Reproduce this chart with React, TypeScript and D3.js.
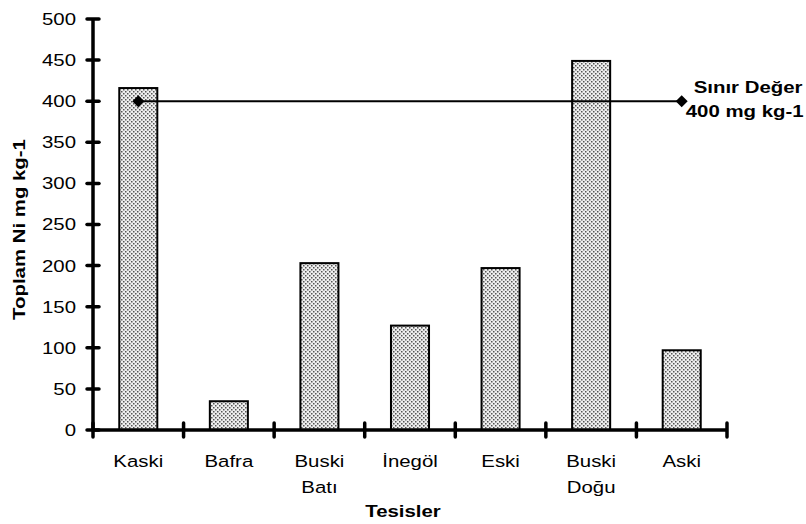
import * as d3 from "d3"
import { useEffect, useRef } from "react"

const categories = ["Kaski", "Bafra", "Buski Batı", "İnegöl", "Eski", "Buski Doğu", "Aski"]
const values = [416, 35, 203, 127, 197, 449, 97]
const limitValue = 400
const limitLabel = ["Sınır Değer", "400 mg kg-1"]
const yTicks = [0, 50, 100, 150, 200, 250, 300, 350, 400, 450, 500]

export default function App() {
  const svgRef = useRef<SVGSVGElement>(null)

  useEffect(() => {
    if (!svgRef.current) return
    const root = d3.select(svgRef.current)
    root.selectAll("*").remove()

    const margin = { top: 19, left: 93, right: 79, bottom: 94 }
    const W = 806
    const H = 524
    const width = W - margin.left - margin.right
    const height = H - margin.top - margin.bottom
    const font = "Arial, 'Liberation Sans', sans-serif"
    const fs = 17
    // the original's type runs wide, so stretch it along the baseline
    const sx = 1.2

    const defs = root.append("defs")
    const pat = defs
      .append("pattern")
      .attr("id", "dots")
      .attr("patternUnits", "userSpaceOnUse")
      .attr("width", 4)
      .attr("height", 4)
    pat.append("rect").attr("width", 4).attr("height", 4).attr("fill", "#eeeeee")
    pat.append("rect").attr("x", 0).attr("y", 0).attr("width", 1.5).attr("height", 1.5).attr("fill", "#555")
    pat.append("rect").attr("x", 2).attr("y", 2).attr("width", 1.5).attr("height", 1.5).attr("fill", "#555")

    const g = root.append("g").attr("transform", `translate(${margin.left},${margin.top})`)

    const x = d3.scaleBand().domain(categories).range([0, width]).paddingInner(0).paddingOuter(0)
    const y = d3.scaleLinear().domain([0, 500]).range([height, 0])
    const barW = x.bandwidth() * 0.42

    // bars
    g.selectAll("rect.bar")
      .data(categories)
      .join("rect")
      .attr("class", "bar")
      .attr("x", (d) => x(d)! + x.bandwidth() / 2 - barW / 2)
      .attr("y", (d, i) => y(values[i]))
      .attr("width", barW)
      .attr("height", (d, i) => height - y(values[i]))
      .attr("fill", "url(#dots)")
      .attr("stroke", "#000")
      .attr("stroke-width", 2)

    // limit line
    const first = categories[0]
    const last = categories[categories.length - 1]
    const lx1 = x(first)! + x.bandwidth() / 2
    const lx2 = x(last)! + x.bandwidth() / 2
    g.append("line")
      .attr("x1", lx1)
      .attr("x2", lx2)
      .attr("y1", y(limitValue))
      .attr("y2", y(limitValue))
      .attr("stroke", "#000")
      .attr("stroke-width", 2)
    g.selectAll("path.marker")
      .data([lx1, lx2])
      .join("path")
      .attr("class", "marker")
      .attr("d", d3.symbol(d3.symbolSquare, 72)())
      .attr("transform", (d) => `translate(${d},${y(limitValue)}) rotate(45)`)
      .attr("fill", "#000")

    g.selectAll("text.limit")
      .data(limitLabel)
      .join("text")
      .attr("class", "limit")
      .attr("transform", (d, i) => `translate(${i === 0 ? lx2 + 12 : lx2 + 4},${y(limitValue) - 8 + i * 24}) scale(${sx},1)`)
      .attr("font-family", font)
      .attr("font-weight", "bold")
      .attr("font-size", fs)
      .text((d) => d)

    // y axis
    g.append("line")
      .attr("x1", 0)
      .attr("x2", 0)
      .attr("y1", 0)
      .attr("y2", height)
      .attr("stroke", "#000")
      .attr("stroke-width", 3.5)
    g.selectAll("line.ytick")
      .data(yTicks)
      .join("line")
      .attr("class", "ytick")
      .attr("x1", -6)
      .attr("x2", 6)
      .attr("y1", (d) => y(d))
      .attr("y2", (d) => y(d))
      .attr("stroke", "#000")
      .attr("stroke-width", 3.5)
      .attr("stroke-linecap", "round")
    g.selectAll("text.ylab")
      .data(yTicks)
      .join("text")
      .attr("class", "ylab")
      .attr("transform", (d) => `translate(-17,${y(d)}) scale(${sx},1)`)
      .attr("dy", "0.35em")
      .attr("text-anchor", "end")
      .attr("font-family", font)
      .attr("font-size", fs)
      .text((d) => d)

    // x axis
    g.append("line")
      .attr("x1", 0)
      .attr("x2", width)
      .attr("y1", height)
      .attr("y2", height)
      .attr("stroke", "#000")
      .attr("stroke-width", 3.5)
    const bounds = categories.map((c) => x(c)!).concat([width])
    g.selectAll("line.xtick")
      .data(bounds)
      .join("line")
      .attr("class", "xtick")
      .attr("x1", (d) => d)
      .attr("x2", (d) => d)
      .attr("y1", height - 7)
      .attr("y2", height + 7)
      .attr("stroke", "#000")
      .attr("stroke-width", 3.5)
      .attr("stroke-linecap", "round")

    const xl = g
      .selectAll("text.xlab")
      .data(categories)
      .join("text")
      .attr("class", "xlab")
      .attr("transform", (d) => `translate(${x(d)! + x.bandwidth() / 2},${height + 37}) scale(${sx},1)`)
      .attr("text-anchor", "middle")
      .attr("font-family", font)
      .attr("font-size", fs)
    xl.selectAll("tspan")
      .data((d) => d.split(" "))
      .join("tspan")
      .attr("x", 0)
      .attr("dy", (d, i) => (i === 0 ? 0 : 26))
      .text((d) => d)

    // axis titles
    g.append("text")
      .attr("transform", `translate(${width / 2 - 7},${height + 87}) scale(${sx},1)`)
      .attr("text-anchor", "middle")
      .attr("font-family", font)
      .attr("font-weight", "bold")
      .attr("font-size", fs)
      .text("Tesisler")

    g.append("text")
      .attr("transform", `translate(${-margin.left + 25},${height / 2 + 5}) rotate(-90) scale(${sx},1)`)
      .attr("text-anchor", "middle")
      .attr("font-family", font)
      .attr("font-weight", "bold")
      .attr("font-size", fs)
      .text("Toplam Ni mg kg-1")
  }, [])

  return (
    <svg
      ref={svgRef}
      width={806}
      height={524}
      style={{ position: "absolute", left: 0, top: 0, background: "#fff" }}
    />
  )
}
